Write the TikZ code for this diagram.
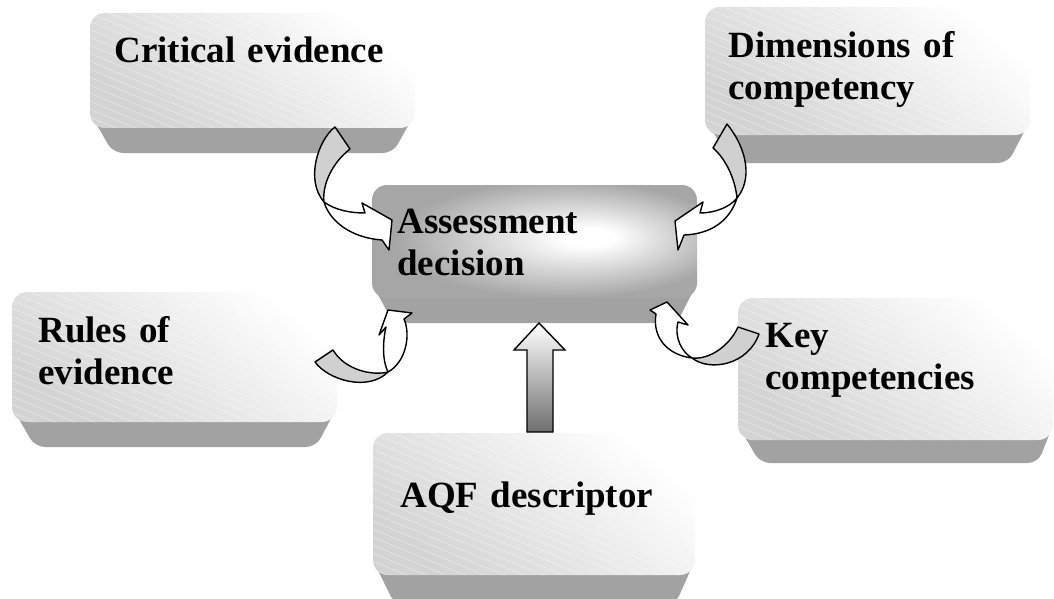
\documentclass[tikz,border=0pt]{standalone}
\usepackage{fontspec}
\setmainfont{Liberation Serif}
\usetikzlibrary{positioning, calc}
\definecolor{facegray}{HTML}{D3D3D3}
\definecolor{bevelgray}{HTML}{A2A2A2}
\definecolor{hubgray}{HTML}{A6A6A6}
\definecolor{arrowgray}{HTML}{D0D0D0}
\definecolor{shaftgray}{HTML}{6E6E6E}
\pgfdeclareradialshading{spot}{\pgfpoint{9bp}{2bp}}{color(0bp)=(white); color(4bp)=(white); color(26bp)=(hubgray); color(50bp)=(hubgray)}
\begin{document}
\begin{tikzpicture}[x=0.5pt, y=-0.5pt,
  face/.style={rounded corners=7.5pt, top color=white, bottom color=facegray, shading angle=-40,
    path picture={\foreach \k in {0,...,40}{\draw[white, line width=0.3pt, opacity=0.45] ($(path picture bounding box.north west)+(-20pt,{80pt-\k*4pt})$) -- ++(220pt,-90pt);}}},
  hub/.style={rounded corners=7.5pt, shading=spot},
  bevel/.style={fill=bevelgray, rounded corners=5pt},
  lbl/.style={font=\fontsize{18.5}{21}\selectfont\bfseries, text width=160pt, align=left, inner sep=0pt, anchor=base west},
  backarrow/.style={fill=arrowgray, draw=black, line width=0.7pt, line join=round},
  frontarrow/.style={fill=white, draw=black, line width=0.7pt, line join=round},
  shaft/.style={top color=white, bottom color=shaftgray, draw=black, line width=0.7pt}]
\useasboundingbox (0,0) rectangle (1054,599);

\path[bevel] (90,113) -- (415,113) -- (393,153) -- (113,153) -- cycle;
\path[face] (90,13) rectangle (415,128);
\node[lbl] (crit) at (114,63) {Critical evidence};

\path[bevel] (705,120) -- (1030,120) -- (1008,163) -- (733,163) -- cycle;
\path[face] (705,7) rectangle (1030,135);
\node[lbl] (dim) at (728,58) {Dimensions of\\competency};

\path[bevel] (372,283) -- (697,283) -- (677,323) -- (393,323) -- cycle;
\shade[hub] (372,185) rectangle (697,298);
\node[lbl] (decision) at (397,233) {Assessment\\decision};

\path[bevel] (12,407) -- (337,407) -- (316,447) -- (35,447) -- cycle;
\path[face] (12,292) rectangle (337,422);
\node[lbl] (rules) at (38,342) {Rules of\\evidence};

\path[bevel] (738,425) -- (1053,425) -- (1038,463) -- (760,463) -- cycle;
\path[face] (738,298) rectangle (1053,440);
\node[lbl] (key) at (765,347) {Key\\competencies};

\path[bevel] (373,560) -- (695,560) -- (675,605) -- (395,605) -- cycle;
\path[face] (373,433) rectangle (695,575);
\node[lbl] (aqf) at (400,507) {AQF descriptor};

\path[backarrow] (335,127) .. controls (318,140) and (305,180) .. (324,202) .. controls (322,185) and (332,163) .. (350,149) -- cycle;
\path[frontarrow] (324,202) .. controls (330,222) and (352,238) .. (382,240) -- (389,250) -- (392,220) -- (362,203) -- (365,213) .. controls (350,213) and (335,210) .. (324,202) -- cycle;

\path[backarrow] (727,124) .. controls (748,150) and (752,180) .. (737,198) .. controls (735,178) and (725,158) .. (713,148) -- cycle;
\path[frontarrow] (737,198) .. controls (730,220) and (712,234) .. (684,235) -- (678,250) -- (675,221) -- (703,202) -- (700,213) .. controls (715,213) and (730,207) .. (737,198) -- cycle;

\path[backarrow] (315,362) .. controls (328,380) and (368,392) .. (388,372) .. controls (372,376) and (345,370) .. (333,350) -- cycle;
\path[frontarrow] (388,372) .. controls (406,362) and (411,335) .. (404,319) -- (412,313) -- (388,310) -- (379,335) -- (386,327) .. controls (382,345) and (383,362) .. (388,372) -- cycle;

\path[backarrow] (692,358) .. controls (710,372) and (748,365) .. (759,334) -- (738,327) .. controls (730,345) and (710,360) .. (692,358) -- cycle;
\path[frontarrow] (692,358) .. controls (668,355) and (652,338) .. (656,314) -- (650,310) -- (667,302) -- (688,325) -- (678,322) .. controls (674,338) and (682,352) .. (692,358) -- cycle;

\path[shaft] (527,432) -- (527,350) -- (514,350) -- (539,323) -- (565,350) -- (553,350) -- (553,432) -- cycle;
\end{tikzpicture}
\end{document}
